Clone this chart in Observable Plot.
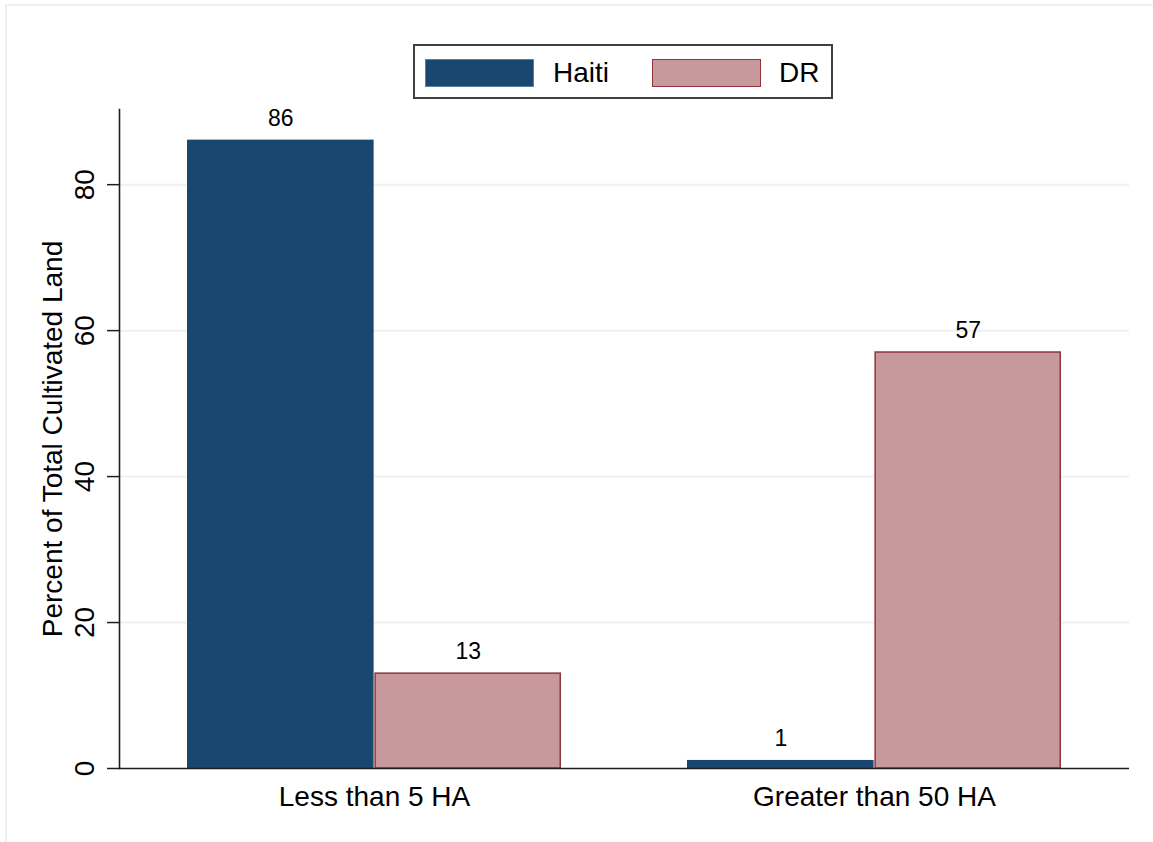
<!DOCTYPE html>
<html>
<head>
<meta charset="utf-8">
<script src="https://cdn.jsdelivr.net/npm/d3@7"></script>
<script src="https://cdn.jsdelivr.net/npm/@observablehq/plot@0.6"></script>
<style>
  html, body { margin: 0; padding: 0; background: #fff; }
  #page { position: relative; width: 1153px; height: 842px; overflow: hidden;
          font-family: "Liberation Sans", Arial, sans-serif; }
  #edge { position: absolute; left: 5px; top: 4px; right: 0; bottom: 0;
          border-top: 2px solid #eaf2f3; border-left: 2px solid #eaf2f3; }
  #legend { position: absolute; left: 413px; top: 44px; width: 416px; height: 51px;
            border: 2px solid #404040; background: #fff; }
  #legend .sw { position: absolute; top: 13px; width: 109px; height: 28px; box-sizing: border-box; }
  #legend .lab { position: absolute; top: 0; height: 51px; line-height: 53px; font-size: 28px; color: #000; }
  #chart { position: absolute; left: 0; top: 100px; }
</style>
</head>
<body>
<div id="page">
  <div id="edge"></div>
  <div id="legend"></div>
  <div id="chart"></div>
</div>
<script>
// Share of total cultivated land by farm size
const groups = ["Less than 5 HA", "Greater than 50 HA"];
const countries = ["Haiti", "DR"];
const haiti = [86, 1];
const dr = [13, 57];
const fills = ["#1a476f", "#c7999c"];
const strokes = ["#1a476f", "#90353b"];
const yTicks = [0, 20, 40, 60, 80];
const yLabel = "Percent of Total Cultivated Land";

const series = [haiti, dr];
const rows = groups.flatMap((g, i) =>
  countries.map((c, k) => ({group: g, country: c, value: series[k][i]}))
);

const W = 1153, H = 742;
const mL = 119, mR = 24, mT = 9, mB = 74;
const padIn = 0.252, padOut = 0.134;
const axisColor = "#1e1e1e";

// the same band layout Plot uses for x, to split each group's band between the two countries
const band = d3.scaleBand(groups, [mL, W - mR]).paddingInner(padIn).paddingOuter(padOut);
const half = band.bandwidth() / countries.length;

const chart = Plot.plot({
  width: W,
  height: H,
  marginTop: mT,
  marginBottom: mB,
  marginLeft: mL,
  marginRight: mR,
  style: {fontFamily: '"Liberation Sans", Arial, sans-serif', background: "transparent", color: "#000"},
  x: {domain: groups, paddingInner: padIn, paddingOuter: padOut, label: null, axis: null},
  y: {domain: [0, 90.3], axis: null},
  marks: [
    // horizontal grid
    Plot.ruleY(yTicks.slice(1), {stroke: "#eaf2f3", strokeWidth: 2, strokeOpacity: 1}),
    // bars: each country takes its own half of the group band
    ...countries.map((c, k) =>
      Plot.barY(rows.filter(r => r.country === c), {
        x: "group", y: "value",
        fill: fills[k], stroke: strokes[k], strokeWidth: 1.5,
        insetLeft: k * half + 0.75, insetRight: (countries.length - 1 - k) * half + 0.75
      })
    ),
    // value labels
    ...countries.map((c, k) =>
      Plot.text(rows.filter(r => r.country === c), {
        x: "group", y: "value", text: d => String(d.value),
        dx: (k - (countries.length - 1) / 2) * half,
        dy: -15, lineAnchor: "bottom", fontSize: 23, fill: "#000"
      })
    ),
    // axis lines
    Plot.ruleY([0], {stroke: axisColor, strokeWidth: 1.6}),
    Plot.frame({anchor: "left", stroke: axisColor, strokeWidth: 1.6, strokeOpacity: 1}),
    // y ticks and rotated labels
    Plot.axisY({
      ticks: yTicks, tickSize: 12, tickRotate: -90, tickPadding: 14,
      fontSize: 28, stroke: axisColor, strokeWidth: 1.5, label: null
    }),
    // y title
    Plot.text([yLabel], {
      frameAnchor: "left", text: d => d, rotate: -90, dx: -58,
      textAnchor: "middle", lineAnchor: "bottom", fontSize: 28, fill: "#000"
    }),
    // category labels
    Plot.axisX({anchor: "bottom", tickSize: 0, tickPadding: 18, fontSize: 28, label: null})
  ]
});
document.getElementById("chart").appendChild(chart);

// legend
const legend = document.getElementById("legend");
const swLeft = [10, 237];
const labLeft = [138, 364];
countries.forEach((c, k) => {
  const sw = document.createElement("div");
  sw.className = "sw";
  sw.style.left = swLeft[k] + "px";
  sw.style.background = fills[k];
  sw.style.border = "1.5px solid " + (k === 0 ? "#5d7fa0" : strokes[k]);
  legend.appendChild(sw);
  const lab = document.createElement("div");
  lab.className = "lab";
  lab.style.left = labLeft[k] + "px";
  lab.textContent = c;
  legend.appendChild(lab);
});
</script>
</body>
</html>
